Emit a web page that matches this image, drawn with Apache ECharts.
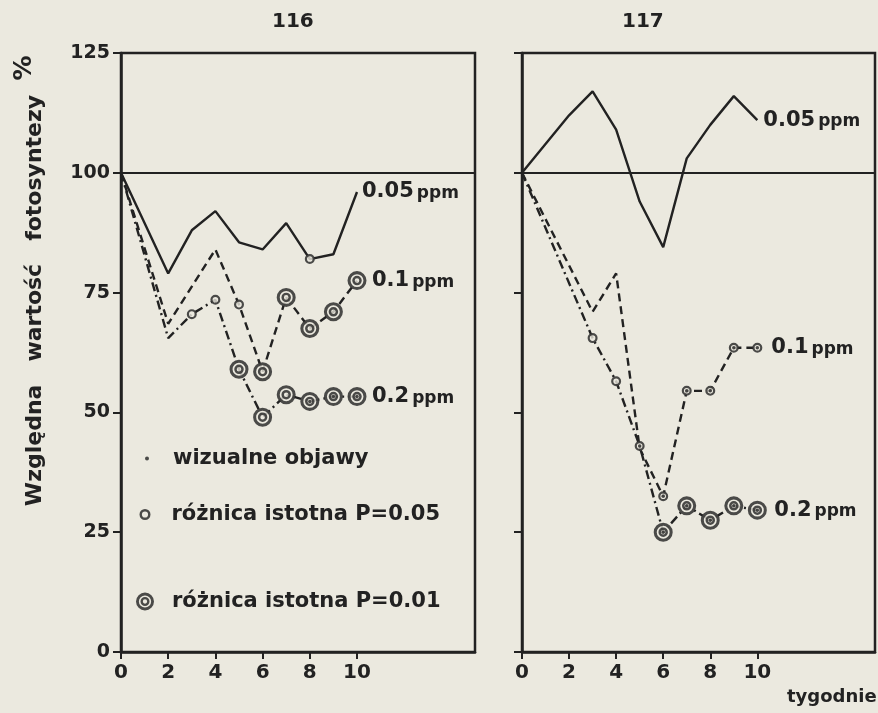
<!DOCTYPE html>
<html><head><meta charset="utf-8">
<script src="https://cdn.jsdelivr.net/npm/echarts@6/dist/echarts.min.js"></script>
<style>html,body{margin:0;padding:0;background:#ebe9df;} #c{width:878px;height:713px;}</style>
</head><body><div id="c"></div>
<script>
// ---- data (weeks, relative photosynthesis %, marker codes) ----
// marker codes: 'o' = różnica istotna P=0.05, 'O' = różnica istotna P=0.01, '.' suffix = wizualne objawy
const xTickLabels = [0, 2, 4, 6, 8, 10];
const yTickLabels = [0, 25, 50, 75, 100, 125];
const panelTitles = ['116', '117'];
const lineNames = ['0.05', '0.1', '0.2'];

const weeks116_005 = [0, 2, 3, 4, 5, 6, 7, 8, 9, 10];
const vals116_005  = [100, 79, 88, 92, 85.5, 84, 89.5, 82, 83, 96];
const marks116_005 = ['', '', '', '', '', '', '', 'o', '', ''];

const weeks116_01 = [0, 2, 4, 5, 6, 7, 8, 9, 10];
const vals116_01  = [100, 68.5, 84, 72.5, 58.5, 74, 67.5, 71, 77.5];
const marks116_01 = ['', '', '', 'o', 'O', 'O', 'O', 'O', 'O'];

const weeks116_02 = [0, 2, 3, 4, 5, 6, 7, 8, 9, 10];
const vals116_02  = [100, 65.5, 70.5, 73.5, 59, 49, 53.7, 52.3, 53.3, 53.3];
const marks116_02 = ['', '', 'o', 'o', 'O', 'O', 'O', 'O.', 'O.', 'O.'];

const weeks117_005 = [0, 2, 3, 4, 5, 6, 7, 8, 9, 10];
const vals117_005  = [100, 112, 117, 109, 94, 84.5, 103, 110, 116, 111];
const marks117_005 = ['', '', '', '', '', '', '', '', '', ''];

const weeks117_01 = [0, 3, 4, 5, 6, 7, 8, 9, 10];
const vals117_01  = [100, 71, 79, 42.5, 32.5, 54.5, 54.5, 63.5, 63.5];
const marks117_01 = ['', '', '', '', 'o.', 'o.', 'o.', 'o.', 'o.'];

const weeks117_02 = [0, 3, 4, 5, 6, 7, 8, 9, 10];
const vals117_02  = [100, 65.5, 56.5, 43, 25, 30.5, 27.5, 30.5, 29.6];
const marks117_02 = ['', 'o', 'o', 'o.', 'O.', 'O.', 'O.', 'O.', 'O.'];

// ---- styling ----
const INK = '#222222';
const BG = '#ebe9df';
const FONT = 'DejaVu Sans';
const RING = 'path://M0,50A50,50 0 1,1 100,50A50,50 0 1,1 0,50Z M22,50A28,28 0 1,0 78,50A28,28 0 1,0 22,50Z';
const DRING = 'path://M0,50A50,50 0 1,1 100,50A50,50 0 1,1 0,50Z M16,50A34,34 0 1,0 84,50A34,34 0 1,0 16,50Z M25,50A25,25 0 1,1 75,50A25,25 0 1,1 25,50Z M38,50A12,12 0 1,0 62,50A12,12 0 1,0 38,50Z';
const SMALL = 10, BIG = 19, DOT = 3.5;
const NAME_DOT = 'wizualne objawy';
const NAME_P05 = 'różnica istotna P=0.05';
const NAME_P01 = 'różnica istotna P=0.01';

const panels = [
  [
    {w: weeks116_005, v: vals116_005, m: marks116_005, type: 'solid', dist: 5, lbl: lineNames[0]},
    {w: weeks116_01, v: vals116_01, m: marks116_01, type: [8, 5], dist: 15, lbl: lineNames[1]},
    {w: weeks116_02, v: vals116_02, m: marks116_02, type: [9, 4, 2, 4], dist: 15, lbl: lineNames[2]}
  ],
  [
    {w: weeks117_005, v: vals117_005, m: marks117_005, type: 'solid', dist: 6, lbl: lineNames[0]},
    {w: weeks117_01, v: vals117_01, m: marks117_01, type: [8, 5], dist: 14, lbl: lineNames[1]},
    {w: weeks117_02, v: vals117_02, m: marks117_02, type: [9, 4, 2, 4], dist: 17, lbl: lineNames[2]}
  ]
];

const series = [];
panels.forEach((defs, g) => {
  const bg = [], rings = [], drings = [], dots = [];
  defs.forEach((d, k) => {
    const s = {
      type: 'line', xAxisIndex: g, yAxisIndex: g, silent: true,
      data: d.w.map((x, i) => [x, d.v[i]]),
      showSymbol: false, symbol: 'none', z: 2,
      lineStyle: {color: INK, width: 2.4, type: d.type},
      endLabel: {
        show: true, distance: d.dist,
        formatter: '{a|' + d.lbl + '}{b|ppm}',
        rich: {
          a: {fontFamily: FONT, fontWeight: 'bold', fontSize: 21, color: INK},
          b: {fontFamily: FONT, fontWeight: 'bold', fontSize: 17, color: INK, padding: [3, 0, 0, 3]}
        }
      }
    };
    if (k === 0) {
      s.markLine = {silent: true, symbol: 'none', label: {show: false},
        lineStyle: {color: INK, width: 2, type: 'solid'}, data: [{yAxis: 100}]};
    }
    series.push(s);
    d.m.forEach((c, i) => {
      if (!c) return;
      const p = [d.w[i], d.v[i]];
      const big = c[0] === 'O';
      bg.push({value: p, symbolSize: big ? BIG - 1 : SMALL - 1});
      (big ? drings : rings).push(p);
      if (c.endsWith('.')) dots.push(p);
    });
  });
  series.push({type: 'scatter', xAxisIndex: g, yAxisIndex: g, silent: true, z: 3,
    symbol: 'circle', itemStyle: {color: BG}, data: bg});
  series.push({type: 'scatter', name: NAME_P05, xAxisIndex: g, yAxisIndex: g, silent: true, z: 4,
    symbol: RING, symbolSize: SMALL, symbolKeepAspect: true, itemStyle: {color: INK}, data: rings});
  series.push({type: 'scatter', name: NAME_P01, xAxisIndex: g, yAxisIndex: g, silent: true, z: 4,
    symbol: DRING, symbolSize: BIG, symbolKeepAspect: true, itemStyle: {color: INK}, data: drings});
  series.push({type: 'scatter', name: NAME_DOT, xAxisIndex: g, yAxisIndex: g, silent: true, z: 5,
    symbol: 'circle', symbolSize: DOT, itemStyle: {color: INK}, data: dots});
});

const axisLine = {show: true, lineStyle: {color: INK, width: 2.5}};
function xAx(g) {
  return {type: 'value', gridIndex: g, min: 0, max: 15,
    axisLine: axisLine, splitLine: {show: false},
    axisTick: {show: true, customValues: xTickLabels, length: 7, lineStyle: {color: INK, width: 2}},
    axisLabel: {show: true, customValues: xTickLabels, margin: 11, color: INK,
      fontFamily: FONT, fontWeight: 'bold', fontSize: 20}};
}
function yAx(g) {
  const a = {type: 'value', gridIndex: g, min: 0, max: 125, interval: 25,
    axisLine: axisLine, splitLine: {show: false},
    axisTick: {show: true, length: 8, lineStyle: {color: INK, width: 2}},
    axisLabel: {show: g === 0, margin: 11, color: INK, fontFamily: FONT, fontWeight: 'bold', fontSize: 19}};
  if (g === 0) {
    a.name = 'Względna   wartość   fotosyntezy';
    a.nameLocation = 'middle';
    a.nameGap = 75;
    a.nameTextStyle = {fontFamily: FONT, fontWeight: 'bold', fontSize: 22, color: INK, padding: [0, 0, 0, 104]};
  }
  return a;
}

const legendText = {fontFamily: FONT, fontWeight: 'bold', fontSize: 21, color: INK};
const option = {
  backgroundColor: BG,
  animation: false,
  grid: [
    {left: 121, right: 403, top: 53, bottom: 61, show: true, borderColor: INK, borderWidth: 2.5},
    {left: 522, right: 3, top: 53, bottom: 61, show: true, borderColor: INK, borderWidth: 2.5}
  ],
  xAxis: [xAx(0), xAx(1)],
  yAxis: [yAx(0), yAx(1)],
  legend: [
    {data: [NAME_DOT], left: 145, top: 448, padding: 0, itemWidth: 4, itemHeight: 4, icon: 'circle',
      selectedMode: false, textStyle: Object.assign({padding: [0, 0, 0, 19]}, legendText)},
    {data: [NAME_P05], left: 139.5, top: 504, padding: 0, itemWidth: 11, itemHeight: 11, icon: RING,
      selectedMode: false, textStyle: Object.assign({padding: [0, 0, 0, 16]}, legendText)},
    {data: [NAME_P01], left: 136, top: 591, padding: 0, itemWidth: 18, itemHeight: 18, icon: DRING,
      selectedMode: false, textStyle: Object.assign({padding: [0, 0, 0, 13]}, legendText)}
  ],
  graphic: [
    {type: 'text', left: 272, top: 12, style: {text: panelTitles[0], fill: INK, font: 'bold 20px "DejaVu Sans"'}},
    {type: 'text', left: 622, top: 12, style: {text: panelTitles[1], fill: INK, font: 'bold 20px "DejaVu Sans"'}},
    {type: 'text', left: 787, top: 688, style: {text: 'tygodnie', fill: INK, font: 'bold 18px "DejaVu Sans"'}},
    {type: 'text', x: 24, y: 68, rotation: Math.PI / 2,
      style: {text: '%', fill: INK, font: 'bold 25px "DejaVu Sans"', align: 'center', verticalAlign: 'middle'}}
  ],
  series: series
};
echarts.init(document.getElementById('c')).setOption(option);
</script></body></html>
